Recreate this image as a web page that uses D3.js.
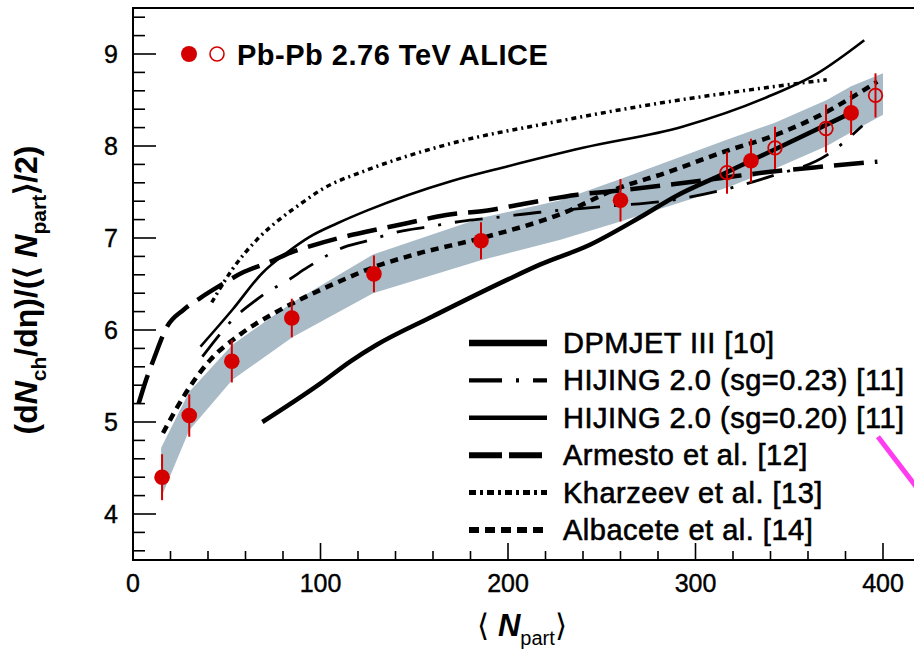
<!DOCTYPE html>
<html>
<head>
<meta charset="utf-8">
<script src="https://cdn.jsdelivr.net/npm/d3@7"></script>
<style>
  body { margin: 0; background: #fff; }
  svg { display: block; font-family: "Liberation Sans", Arial, Helvetica, sans-serif; }
</style>
</head>
<body>
<div id="chart"></div>
<script>
// ALICE data: <Npart>, value, stat error
const aliceFilledN   = [15.5, 30, 52.7, 84.7, 128.5, 185.6, 260, 329.6, 383];
const aliceFilledY   = [4.40, 5.07, 5.66, 6.13, 6.61, 6.97, 7.41, 7.84, 8.36];
const aliceFilledErr = [0.25, 0.23, 0.23, 0.21, 0.20, 0.20, 0.23, 0.24, 0.24];
const aliceOpenN     = [316.8, 342.4, 369.6, 396];
const aliceOpenY     = [7.71, 7.98, 8.19, 8.55];
const aliceOpenErr   = [0.23, 0.23, 0.26, 0.24];

// systematic band
const bandN     = [15, 30, 53, 85, 128, 186, 228, 260, 317, 342, 370, 383, 400];
const bandUpper = [4.72, 5.33, 5.84, 6.30, 6.82, 7.22, 7.41, 7.64, 8.07, 8.25, 8.50, 8.65, 8.79];
const bandLower = [4.18, 4.91, 5.46, 5.92, 6.40, 6.76, 6.98, 7.18, 7.55, 7.75, 8.00, 8.15, 8.34];

// model curves
const dpmjet   = [[69,5.0],[100,5.42],[116,5.66],[130,5.84],[160,6.15],[200,6.55],[217,6.71],[244,6.93],[270,7.22],[290,7.46],[313,7.68],[340,7.94],[383,8.36]];
const hijing23 = [[37,5.71],[47,5.97],[53,6.11],[64,6.30],[73,6.43],[81,6.52],[93,6.68],[101,6.78],[110,6.88],[125,6.97],[142,7.07],[157,7.12],[178,7.19],[192,7.22],[217,7.28],[250,7.34],[290,7.42],[320,7.55],[340,7.67],[370,7.90],[389,8.22]];
const hijing20 = [[36,5.82],[53,6.22],[69,6.62],[82,6.84],[94,7.01],[109,7.16],[125,7.30],[170,7.62],[200,7.78],[240,7.98],[293,8.21],[338,8.53],[365,8.79],[390,9.15]];
const armesto  = [[3,5.2],[7,5.46],[11,5.68],[18,6.03],[27,6.22],[36,6.35],[47,6.49],[59,6.63],[73,6.74],[84,6.84],[96,6.92],[110,7.0],[125,7.07],[146,7.16],[167,7.25],[189,7.3],[208,7.37],[237,7.47],[261,7.52],[290,7.59],[313,7.65],[340,7.72],[370,7.78],[397,7.83]];
const kharzeev = [[42,6.3],[53,6.66],[66,6.98],[78,7.2],[90,7.38],[100,7.52],[125,7.74],[151,7.92],[174,8.05],[222,8.25],[276,8.45],[329,8.61],[370,8.72]];
const albacete = [[16,4.88],[28,5.31],[41,5.67],[57,5.95],[75,6.18],[92,6.36],[107,6.5],[128,6.68],[150,6.82],[186,7.0],[228,7.26],[260,7.55],[283,7.70],[317,7.95],[340,8.1],[365,8.32],[397,8.7]];

const legendLabels = ["DPMJET III [10]", "HIJING 2.0 (sg=0.23) [11]", "HIJING 2.0 (sg=0.20) [11]",
                      "Armesto et al. [12]", "Kharzeev et al. [13]", "Albacete et al. [14]"];

const xMajor = [0, 100, 200, 300, 400];
const yMajor = [4, 5, 6, 7, 8, 9];

// pink annotation stroke (data units)
const pinkStroke = [[397.3, 4.84], [427, 4.05]];

const W = 914, H = 649;
const red = "#d40000";

const svg = d3.select("#chart").append("svg")
    .attr("width", W).attr("height", H);

const x = d3.scaleLinear().domain([0, 400]).range([133, 883]);
const y = d3.scaleLinear().domain([3.5, 9.5]).range([560, 8]);

// band
const area = d3.area()
    .x((d, i) => x(bandN[i]))
    .y0((d, i) => y(bandLower[i]))
    .y1((d, i) => y(bandUpper[i]));
svg.append("path")
    .attr("d", area(bandN))
    .attr("fill", "#a9bbc7");

// model curves
const line = d3.line()
    .x(d => x(d[0]))
    .y(d => y(d[1]))
    .curve(d3.curveMonotoneX);

const models = [
    { data: dpmjet,   width: 4.5, dash: null },
    { data: hijing23, width: 2.8, dash: "28,14,3,14" },
    { data: hijing20, width: 2.6, dash: null },
    { data: armesto,  width: 4.5, dash: "30,11" },
    { data: kharzeev, width: 3.5, dash: "5,4,2,4" },
    { data: albacete, width: 4.5, dash: "8,6" }
];

svg.selectAll("path.model")
    .data(models)
    .enter().append("path")
    .attr("class", "model")
    .attr("d", d => line(d.data))
    .attr("fill", "none")
    .attr("stroke", "#000")
    .attr("stroke-width", d => d.width)
    .attr("stroke-dasharray", d => d.dash);

// error bars
const filled = aliceFilledN.map((n, i) => ({ n, v: aliceFilledY[i], e: aliceFilledErr[i] }));
const open = aliceOpenN.map((n, i) => ({ n, v: aliceOpenY[i], e: aliceOpenErr[i] }));

svg.selectAll("line.err")
    .data(filled.concat(open))
    .enter().append("line")
    .attr("class", "err")
    .attr("x1", d => x(d.n)).attr("x2", d => x(d.n))
    .attr("y1", d => y(d.v - d.e)).attr("y2", d => y(d.v + d.e))
    .attr("stroke", red).attr("stroke-width", 2);

svg.selectAll("circle.filled")
    .data(filled)
    .enter().append("circle")
    .attr("class", "filled")
    .attr("cx", d => x(d.n)).attr("cy", d => y(d.v))
    .attr("r", 7.8).attr("fill", red);

svg.selectAll("circle.open")
    .data(open)
    .enter().append("circle")
    .attr("class", "open")
    .attr("cx", d => x(d.n)).attr("cy", d => y(d.v))
    .attr("r", 6.8).attr("fill", "none")
    .attr("stroke", red).attr("stroke-width", 1.8);

// frame
svg.append("path")
    .attr("d", `M${W + 5},8 H133 V560 H${W + 5}`)
    .attr("fill", "none").attr("stroke", "#000").attr("stroke-width", 2);

// ticks
const xTicks = d3.range(0, 421, 20);
svg.selectAll("line.xt")
    .data(xTicks)
    .enter().append("line")
    .attr("x1", d => x(d)).attr("x2", d => x(d))
    .attr("y1", 560)
    .attr("y2", d => xMajor.includes(d) ? 543 : 551)
    .attr("stroke", "#000").attr("stroke-width", 1.6);

const yTicks = d3.range(36, 95, 2).map(v => v / 10);
svg.selectAll("line.yt")
    .data(yTicks)
    .enter().append("line")
    .attr("y1", d => y(d)).attr("y2", d => y(d))
    .attr("x1", 133)
    .attr("x2", d => yMajor.includes(d) ? 156 : 145)
    .attr("stroke", "#000").attr("stroke-width", 1.6);

svg.selectAll("text.xl")
    .data(xMajor)
    .enter().append("text")
    .attr("x", d => x(d)).attr("y", 592)
    .attr("text-anchor", "middle")
    .attr("font-size", 25)
    .attr("stroke", "#000").attr("stroke-width", 0.4)
    .text(d => d);

svg.selectAll("text.yl")
    .data(yMajor)
    .enter().append("text")
    .attr("x", 118).attr("y", d => y(d) + 9)
    .attr("text-anchor", "end")
    .attr("font-size", 25)
    .attr("stroke", "#000").attr("stroke-width", 0.4)
    .text(d => d);

// axis titles
const xt = svg.append("text")
    .attr("x", 522).attr("y", 636)
    .attr("text-anchor", "middle")
    .attr("font-size", 31);
xt.append("tspan").attr("font-weight", "300").text("\u27E8 ");
xt.append("tspan").attr("font-style", "italic").attr("font-weight", "bold").text("N");
xt.append("tspan").attr("font-size", 20).attr("dy", 9).text("part");
xt.append("tspan").attr("dy", -9).text("\u27E9");

const yt = svg.append("text")
    .attr("transform", "translate(37,290) rotate(-90)")
    .attr("text-anchor", "middle")
    .attr("font-size", 32)
    .attr("font-weight", "bold");
yt.append("tspan").text("(d");
yt.append("tspan").attr("font-style", "italic").text("N");
yt.append("tspan").attr("font-size", 21).attr("dy", 9).text("ch");
yt.append("tspan").attr("dy", -9).text("/d\u03B7)/(\u27E8 ");
yt.append("tspan").attr("font-style", "italic").text("N");
yt.append("tspan").attr("font-size", 21).attr("dy", 9).text("part");
yt.append("tspan").attr("dy", -9).text("\u27E9/2)");

// data legend (top left)
svg.append("circle").attr("cx", 189).attr("cy", 54).attr("r", 8).attr("fill", red);
svg.append("circle").attr("cx", 217).attr("cy", 54).attr("r", 7)
    .attr("fill", "none").attr("stroke", red).attr("stroke-width", 1.6);
svg.append("text")
    .attr("x", 237).attr("y", 65)
    .attr("font-size", 29).attr("font-weight", "bold")
    .attr("letter-spacing", 0.5)
    .text("Pb-Pb 2.76 TeV ALICE");

// model legend
const legend = svg.selectAll("g.leg")
    .data(models)
    .enter().append("g")
    .attr("transform", (d, i) => `translate(0,${343 + i * 37.4})`);

legend.append("line")
    .attr("x1", 469).attr("x2", 547)
    .attr("stroke", "#000")
    .attr("stroke-width", (d, i) => [6.5, 4.3, 4.5, 6, 5, 6][i])
    .attr("stroke-dasharray", (d, i) => [null, "33,14,3,14", null, "33,7", "7,4,3,4", "10,6"][i]);

legend.append("text")
    .attr("x", 563).attr("y", 10)
    .attr("font-size", 29)
    .attr("letter-spacing", 0.5)
    .attr("stroke", "#000").attr("stroke-width", 0.6)
    .text((d, i) => legendLabels[i]);

// pink annotation mark
svg.append("line")
    .attr("x1", x(pinkStroke[0][0])).attr("y1", y(pinkStroke[0][1]))
    .attr("x2", x(pinkStroke[1][0])).attr("y2", y(pinkStroke[1][1]))
    .attr("stroke", "#ff3cf0").attr("stroke-width", 5);
</script>
</body>
</html>
